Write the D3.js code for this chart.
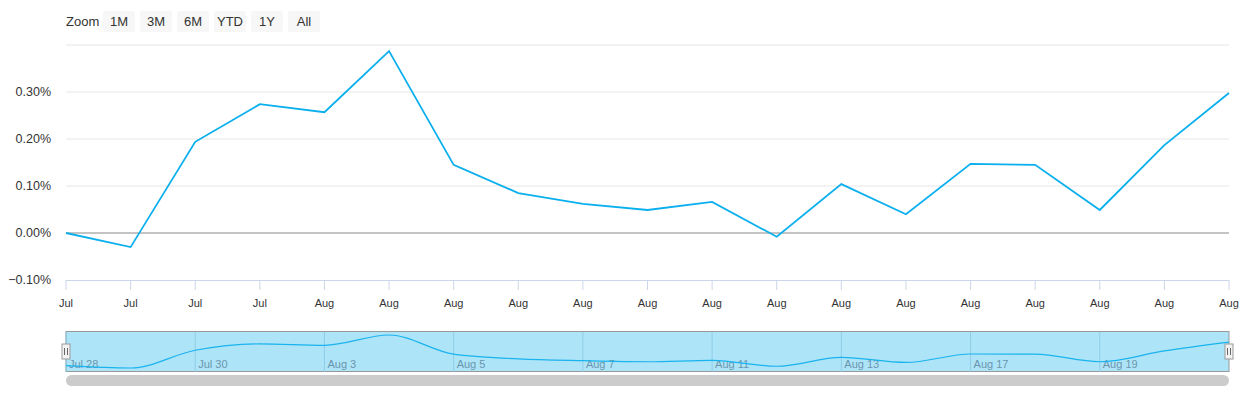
<!DOCTYPE html><html><head><meta charset="utf-8"><script src="https://d3js.org/d3.v7.min.js"></script>
<style>body{margin:0;background:#fff;font-family:"Liberation Sans",Arial,sans-serif}</style></head><body><svg id="c" width="1240" height="400"></svg>
<script>
const dates=["Jul 28","Jul 29","Jul 30","Jul 31","Aug 3","Aug 4","Aug 5","Aug 6","Aug 7","Aug 10","Aug 11","Aug 12","Aug 13","Aug 14","Aug 17","Aug 18","Aug 19","Aug 20","Aug 21"];
const values=[0,-0.03,0.194,0.274,0.257,0.387,0.145,0.085,0.062,0.049,0.066,-0.008,0.104,0.040,0.147,0.145,0.049,0.187,0.298];
const yTicks=[-0.1,0,0.1,0.2,0.3,0.4];
const navLabels=["Jul 28","Jul 30","Aug 3","Aug 5","Aug 7","Aug 11","Aug 13","Aug 17","Aug 19"];
const zoomBtns=["1M","3M","6M","YTD","1Y","All"];
const svg=d3.select("#c");
const x=d3.scalePoint().domain(dates).range([66,1229]);
const y=d3.scaleLinear().domain([-0.1,0.4]).range([280,45]);
// zoom buttons
svg.append("text").attr("x",66).attr("y",26).attr("font-size",13).attr("fill","#333").text("Zoom");
let bx=103;const bw=[32,32,32,32,32,32];
zoomBtns.forEach((b,i)=>{const g=svg.append("g");g.append("rect").attr("x",bx).attr("y",11).attr("width",bw[i]).attr("height",21).attr("rx",2).attr("fill","#f7f7f7");
g.append("text").attr("x",bx+bw[i]/2).attr("y",26).attr("text-anchor","middle").attr("font-size",13).attr("fill","#333").text(b);bx+=bw[i]+5;});
// grid
yTicks.forEach(t=>{if(t===-0.1)return;svg.append("line").attr("x1",66).attr("x2",1229).attr("y1",y(t)).attr("y2",y(t)).attr("stroke",t===0?"#888":"#e6e6e6").attr("stroke-width",1);});
yTicks.forEach(t=>{if(t===0.4)return;svg.append("text").attr("x",51).attr("y",y(t)+4).attr("text-anchor","end").attr("font-size",12.5).attr("fill","#333").text(d3.format(".2f")(t)+"%");});
svg.append("line").attr("x1",66).attr("x2",1229).attr("y1",280.5).attr("y2",280.5).attr("stroke","#ccd6eb");
dates.forEach(d=>{svg.append("line").attr("x1",x(d)).attr("x2",x(d)).attr("y1",280).attr("y2",290).attr("stroke","#ccd6eb");
svg.append("text").attr("x",x(d)).attr("y",307).attr("text-anchor","middle").attr("font-size",11).attr("fill","#333").text(d.slice(0,3));});
svg.append("path").datum(values).attr("fill","none").attr("stroke","#0aafee").attr("stroke-width",1.8)
 .attr("d",d3.line().x((v,i)=>x(dates[i])).y(v=>y(v)));
// navigator
const ny=d3.scaleLinear().domain(d3.extent(values)).range([368,335]);
svg.append("rect").attr("x",66).attr("y",331.5).attr("width",1163).attr("height",40).attr("fill","#aee4f8").attr("stroke","#999");
navLabels.forEach(l=>{const xx=x(l);svg.append("line").attr("x1",xx).attr("x2",xx).attr("y1",332).attr("y2",372).attr("stroke","#8fcde6");
svg.append("text").attr("x",xx+3).attr("y",368).attr("font-size",11).attr("fill","#6a96ad").text(l);});
svg.append("path").datum(values).attr("fill","none").attr("stroke","#19b3ee").attr("stroke-width",1.2)
 .attr("d",d3.line().curve(d3.curveMonotoneX).x((v,i)=>x(dates[i])).y(v=>ny(v)));
[66,1229].forEach(h=>{svg.append("rect").attr("x",h-4).attr("y",344).attr("width",8).attr("height",15).attr("fill","#f2f2f2").attr("stroke","#999");
svg.append("line").attr("x1",h-1.5).attr("x2",h-1.5).attr("y1",348).attr("y2",355).attr("stroke","#666");svg.append("line").attr("x1",h+1.5).attr("x2",h+1.5).attr("y1",348).attr("y2",355).attr("stroke","#666");});
svg.append("rect").attr("x",66).attr("y",375).attr("width",1163).attr("height",11).attr("rx",5.5).attr("fill","#cccccc");
</script></body></html>
